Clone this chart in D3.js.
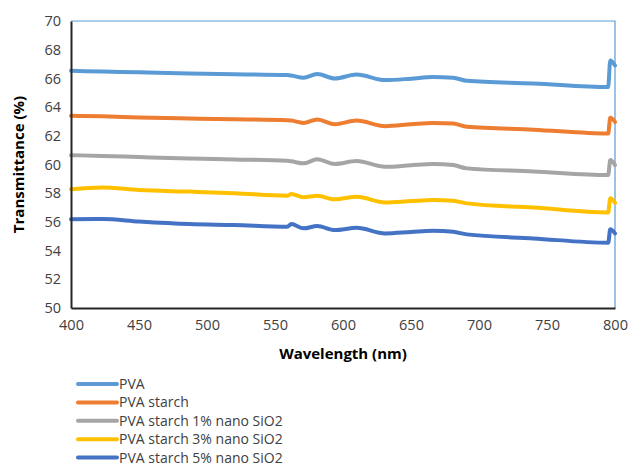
<!DOCTYPE html>
<html lang="en">
<head>
<meta charset="utf-8">
<title>Transmittance</title>
<script src="https://cdn.jsdelivr.net/npm/d3@7"></script>
<style>
  body { margin: 0; background: #fff; }
  text { font-family: "Open Sans", "Liberation Sans", sans-serif; }
</style>
</head>
<body>
<script>
// data
var wavelengths = [400, 423, 450, 487, 520, 559, 562, 571, 581, 594, 610, 631, 650, 666, 681, 691, 740, 795, 796.5, 800];
var pva       = [66.53, 66.48, 66.42, 66.34, 66.29, 66.23, 66.20, 66.04, 66.30, 66.00, 66.27, 65.88, 65.98, 66.10, 66.05, 65.83, 65.65, 65.40, 67.25, 66.90];
var pvaStarch = [63.39, 63.36, 63.28, 63.21, 63.15, 63.09, 63.06, 62.90, 63.14, 62.81, 63.06, 62.67, 62.80, 62.90, 62.86, 62.63, 62.43, 62.16, 63.25, 62.97];
var sio2_1    = [60.65, 60.60, 60.52, 60.42, 60.35, 60.26, 60.22, 60.08, 60.36, 60.03, 60.24, 59.84, 59.95, 60.03, 59.96, 59.73, 59.52, 59.26, 60.31, 59.96];
var sio2_3    = [58.27, 58.40, 58.22, 58.11, 58.00, 57.82, 57.94, 57.71, 57.82, 57.57, 57.75, 57.36, 57.45, 57.52, 57.47, 57.29, 57.00, 56.66, 57.64, 57.33];
var sio2_5    = [56.18, 56.20, 56.03, 55.85, 55.78, 55.66, 55.85, 55.55, 55.71, 55.43, 55.59, 55.20, 55.30, 55.38, 55.31, 55.13, 54.85, 54.55, 55.48, 55.20];

var seriesNames = ["PVA", "PVA starch", "PVA starch 1% nano SiO2", "PVA starch 3% nano SiO2", "PVA starch 5% nano SiO2"];
var seriesValues = [pva, pvaStarch, sio2_1, sio2_3, sio2_5];
var colors = ["#5b9bd5", "#ed7d31", "#a5a5a5", "#ffc000", "#4472c4"];

var xTicks = [400, 450, 500, 550, 600, 650, 700, 750, 800];
var yTicks = [50, 52, 54, 56, 58, 60, 62, 64, 66, 68, 70];

var w = 630, h = 467;
var plotLeft = 71, plotRight = 615, plotTop = 21, plotBottom = 308;

var svg = d3.select("body").append("svg")
  .attr("width", w)
  .attr("height", h);

var x = d3.scaleLinear().domain([400, 800]).range([plotLeft, plotRight]);
var y = d3.scaleLinear().domain([50, 70]).range([plotBottom, plotTop]);

// plot border on top and right (light blue in the original)
svg.append("path")
  .attr("d", "M" + plotLeft + "," + plotTop + "H" + plotRight + "V" + plotBottom)
  .attr("fill", "none")
  .attr("stroke", "#5b9bd5")
  .attr("stroke-width", 1.2);

// lines
var line = d3.line()
  .x(function(d, i) { return x(wavelengths[i]); })
  .y(function(d) { return y(d); })
  .curve(d3.curveMonotoneX);

svg.selectAll(".series")
  .data(seriesValues)
  .enter()
  .append("path")
  .attr("class", "series")
  .attr("d", line)
  .attr("fill", "none")
  .attr("stroke", function(d, i) { return colors[i]; })
  .attr("stroke-width", 4)
  .attr("stroke-linejoin", "round")
  .attr("stroke-linecap", "round");

// axes
var xAxis = svg.append("g")
  .attr("transform", "translate(0," + plotBottom + ")")
  .call(d3.axisBottom(x).tickValues(xTicks).tickSize(0).tickPadding(12));

var yAxis = svg.append("g")
  .attr("transform", "translate(" + plotLeft + ",0)")
  .call(d3.axisLeft(y).tickValues(yTicks).tickSize(0).tickPadding(10));

[xAxis, yAxis].forEach(function(g) {
  g.select(".domain").attr("stroke", "#262626").attr("stroke-width", 2);
  g.selectAll("text")
    .attr("font-size", "14.5px")
    .attr("fill", "#404040")
    .style("font-family", "'Open Sans', sans-serif");
});

// axis titles
svg.append("text")
  .attr("x", (plotLeft + plotRight) / 2)
  .attr("y", 359)
  .attr("text-anchor", "middle")
  .attr("font-size", "15px")
  .attr("font-weight", "bold")
  .attr("fill", "#000")
  .text("Wavelength (nm)");

svg.append("text")
  .attr("transform", "translate(24," + ((plotTop + plotBottom) / 2) + ") rotate(-90)")
  .attr("text-anchor", "middle")
  .attr("font-size", "15px")
  .attr("font-weight", "bold")
  .attr("fill", "#000")
  .text("Transmittance (%)");

// legend
var legend = svg.selectAll(".legend")
  .data(seriesNames)
  .enter()
  .append("g")
  .attr("class", "legend")
  .attr("transform", function(d, i) { return "translate(78," + (384 + i * 18.4) + ")"; });

legend.append("line")
  .attr("x1", 0).attr("x2", 39)
  .attr("stroke", function(d, i) { return colors[i]; })
  .attr("stroke-width", 4)
  .attr("stroke-linecap", "round");

legend.append("text")
  .attr("x", 41)
  .attr("dy", "0.35em")
  .attr("font-size", "14px")
  .attr("fill", "#404040")
  .text(function(d) { return d; });
</script>
</body>
</html>
